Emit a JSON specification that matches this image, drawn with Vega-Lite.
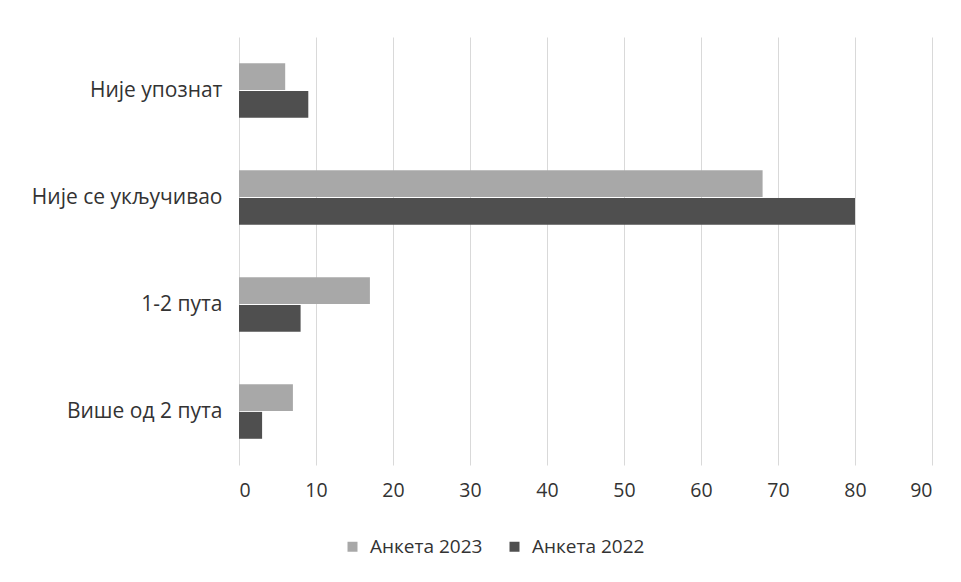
{
  "$schema": "https://vega.github.io/schema/vega-lite/v6.json",
  "width": 693,
  "height": 428,
  "autosize": {"type": "none"},
  "padding": {"left": 239, "top": 37, "right": 29, "bottom": 117},
  "background": "white",
  "config": {
    "view": {"stroke": null},
    "font": "Open Sans",
    "axis": {"labelFont": "Open Sans", "labelColor": "#333333", "labelFontSize": 19.5}
  },
  "data": {
    "values": [
      {"odgovor": "Није упознат", "anketa": "Анкета 2023", "broj": 6},
      {"odgovor": "Није упознат", "anketa": "Анкета 2022", "broj": 9},
      {"odgovor": "Није се укључивао", "anketa": "Анкета 2023", "broj": 68},
      {"odgovor": "Није се укључивао", "anketa": "Анкета 2022", "broj": 80},
      {"odgovor": "1-2 пута", "anketa": "Анкета 2023", "broj": 17},
      {"odgovor": "1-2 пута", "anketa": "Анкета 2022", "broj": 8},
      {"odgovor": "Више од 2 пута", "anketa": "Анкета 2023", "broj": 7},
      {"odgovor": "Више од 2 пута", "anketa": "Анкета 2022", "broj": 3}
    ]
  },
  "mark": {"type": "bar"},
  "encoding": {
    "y": {
      "field": "odgovor",
      "type": "nominal",
      "sort": ["Није упознат", "Није се укључивао", "1-2 пута", "Више од 2 пута"],
      "scale": {"paddingInner": 0.49, "paddingOuter": 0.245},
      "axis": {"title": null, "domain": false, "ticks": false, "labelPadding": 17, "labelFontSize": 21, "labelLimit": 300}
    },
    "yOffset": {
      "field": "anketa",
      "type": "nominal",
      "sort": ["Анкета 2023", "Анкета 2022"],
      "scale": {"paddingInner": 0.03}
    },
    "x": {
      "field": "broj",
      "type": "quantitative",
      "scale": {"domain": [0, 90], "nice": false},
      "axis": {
        "title": null,
        "values": [0, 10, 20, 30, 40, 50, 60, 70, 80, 90],
        "domain": false,
        "ticks": false,
        "gridColor": "#d9d9d9",
        "gridWidth": 1,
        "labelPadding": 16
      }
    },
    "color": {
      "field": "anketa",
      "type": "nominal",
      "sort": ["Анкета 2023", "Анкета 2022"],
      "scale": {"domain": ["Анкета 2023", "Анкета 2022"], "range": ["#a8a8a8", "#4f4f4f"]},
      "legend": {
        "title": null,
        "orient": "none",
        "direction": "horizontal",
        "legendX": 104,
        "legendY": 500,
        "symbolType": "square",
        "symbolSize": 100,
        "labelFontSize": 19,
        "labelColor": "#333333",
        "labelOffset": 8,
        "columnPadding": 22
      }
    }
  }
}
